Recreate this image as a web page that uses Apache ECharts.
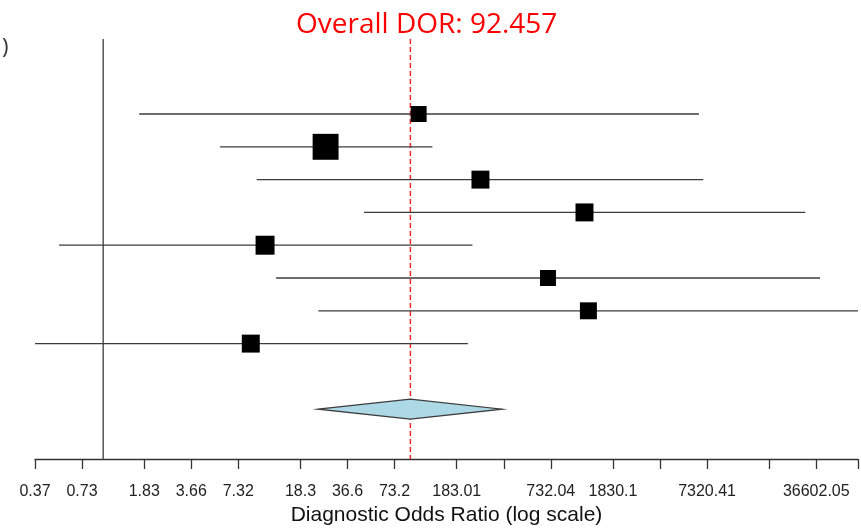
<!DOCTYPE html>
<html>
<head>
<meta charset="utf-8">
<title>Forest plot - DOR</title>
<script src="https://cdn.jsdelivr.net/npm/echarts@6/dist/echarts.min.js"></script>
<style>
  html, body { margin: 0; padding: 0; background: #fff; }
  #chart { width: 861px; height: 530px; }
</style>
</head>
<body>
<div id="chart"></div>
<script>
// study estimates, top row first
var studyDOR = [104.4, 26.5, 259.6, 1202.7, 10.86, 702.3, 1274, 8.8];
var ciLower  = [1.70, 5.60, 9.61, 46.7, 0.522, 12.78, 23.8, 0.366];
var ciUpper  = [6494, 127.9, 6921, 31130, 230.8, 38660, 67700, 215.6];
var weights  = [10.2, 26.9, 12.9, 12.9, 14.4, 10.2, 11.5, 12.9]; // % weight -> square size

// pooled estimate
var pooledDOR = 92.457;
var pooledCI  = [23.7, 358];

// x axis ticks, R style: some ticks carry no label
var tickValues = [0.36602, 0.73204, 1.8301, 3.6602, 7.32041, 18.301, 36.602, 73.2041,
                  183.01, 366.02, 732.041, 1830.1, 3660.2, 7320.41, 18301.0, 36602.05, 67700];
var tickLabels = ['0.37', '0.73', '1.83', '3.66', '7.32', '18.3', '36.6', '73.2',
                  '183.01', '', '732.04', '1830.1', '', '7320.41', '', '36602.05', ''];

var log10 = function (v) { return Math.log10(v); };
var tickLogs = tickValues.map(log10);

var studyData = studyDOR.map(function (d, i) {
  return [log10(ciLower[i]), log10(ciUpper[i]), log10(d), i, weights[i]];
});
var pooledData = [[log10(pooledCI[0]), log10(pooledCI[1]), log10(pooledDOR), studyDOR.length + 1]];

var yMin = -2.287, yMax = 10.518;

function renderStudy(params, api) {
  var row = api.value(3);
  var lo = api.coord([api.value(0), row]);
  var hi = api.coord([api.value(1), row]);
  var pt = api.coord([api.value(2), row]);
  var s = 50 * Math.sqrt(api.value(4) / 100);
  return {
    type: 'group',
    children: [
      { type: 'line', shape: { x1: lo[0], y1: lo[1], x2: hi[0], y2: hi[1] },
        style: { stroke: '#3c3c3c', lineWidth: 1.3 } },
      { type: 'rect', shape: { x: pt[0] - s / 2, y: pt[1] - s / 2, width: s, height: s },
        style: { fill: '#000' } }
    ]
  };
}

function renderPooled(params, api) {
  var row = api.value(3);
  var lo = api.coord([api.value(0), row]);
  var hi = api.coord([api.value(1), row]);
  var mid = api.coord([api.value(2), row]);
  var h = 10;
  return {
    type: 'polygon',
    shape: { points: [lo, [mid[0], mid[1] - h], hi, [mid[0], mid[1] + h]] },
    style: { fill: '#add8e6', stroke: '#3c3c3c', lineWidth: 1.2 }
  };
}

// reference lines (DOR = 1 and pooled DOR) over the full plot height
function renderRefLine(params, api) {
  var top = api.coord([api.value(0), yMin]);
  var bottom = api.coord([api.value(0), yMax]);
  var dashed = api.value(1) === 1;
  return {
    type: 'line',
    shape: { x1: top[0], y1: top[1], x2: bottom[0], y2: bottom[1] },
    style: dashed
      ? { stroke: '#ff2a2a', lineWidth: 1.5, lineDash: [5, 3] }
      : { stroke: '#555', lineWidth: 1.5 }
  };
}

var chart = echarts.init(document.getElementById('chart'));

chart.setOption({
  animation: false,
  title: {
    text: 'Overall DOR: 92.457',
    left: 291,
    top: 6,
    textStyle: {
      color: '#ff0000',
      fontSize: 28,
      fontWeight: 'normal',
      fontFamily: '"Open Sans", sans-serif'
    }
  },
  graphic: [{
    type: 'text',
    left: 2,
    top: 37,
    style: { text: ')', fontSize: 22, fill: '#333', fontFamily: '"Open Sans", sans-serif' }
  }],
  grid: { left: 35, right: 3, top: 39, bottom: 71, containLabel: false, outerBoundsMode: 'none' },
  xAxis: {
    type: 'value',
    min: log10(tickValues[0]),
    max: log10(tickValues[tickValues.length - 1]),
    splitLine: { show: false },
    axisLine: { onZero: false, lineStyle: { color: '#333', width: 1.3 } },
    axisTick: {
      customValues: tickLogs,
      length: 10,
      lineStyle: { color: '#333', width: 1.3 }
    },
    axisLabel: {
      customValues: tickLogs,
      margin: 25,
      fontSize: 16,
      color: '#222',
      fontFamily: '"Liberation Sans", Arial, sans-serif',
      formatter: function (v) {
        for (var i = 0; i < tickLogs.length; i++) {
          if (Math.abs(tickLogs[i] - v) < 1e-6) return tickLabels[i];
        }
        return '';
      }
    },
    name: 'Diagnostic Odds Ratio (log scale)',
    nameLocation: 'middle',
    nameGap: 44,
    nameTextStyle: {
      fontSize: 21,
      color: '#111',
      fontFamily: '"Liberation Sans", Arial, sans-serif'
    }
  },
  yAxis: {
    type: 'value',
    inverse: true,
    min: yMin,
    max: yMax,
    show: false
  },
  series: [
    {
      type: 'custom',
      z: 1,
      silent: true,
      data: [[0, 0], [log10(pooledDOR), 1]],
      renderItem: renderRefLine
    },
    {
      type: 'custom',
      z: 3,
      data: studyData,
      renderItem: renderStudy
    },
    {
      type: 'custom',
      z: 5,
      data: pooledData,
      renderItem: renderPooled
    }
  ]
});
</script>
</body>
</html>
